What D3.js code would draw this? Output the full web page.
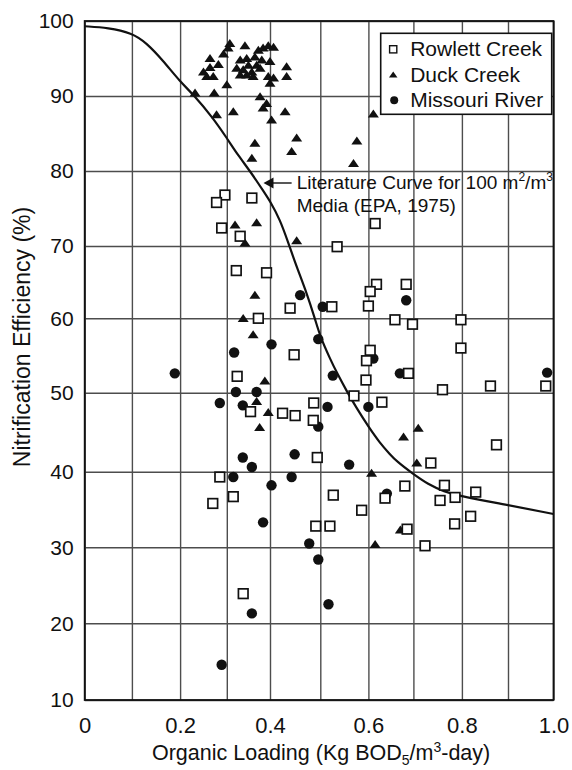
<!DOCTYPE html>
<html>
<head>
<meta charset="utf-8">
<script src="https://cdn.jsdelivr.net/npm/d3@7"></script>
<style>
  html, body { margin: 0; padding: 0; background: #fff; }
  svg { display: block; font-family: "Liberation Sans", Arial, Helvetica, sans-serif; }
</style>
</head>
<body>
<script>
// ---- Data ---------------------------------------------------------------
const xGridValues = [0, 0.1, 0.2, 0.3, 0.4, 0.5, 0.6, 0.7, 0.8, 0.9, 1.0];
const xTickValues = [0, 0.2, 0.4, 0.6, 0.8, 1.0];
const xTickLabels = ["0", "0.2", "0.4", "0.6", "0.8", "1.0"];
const yTickValues = [10, 20, 30, 40, 50, 60, 70, 80, 90, 100];
const seriesNames = ["Rowlett Creek", "Duck Creek", "Missouri River"];

// [organic loading, nitrification efficiency %]
const rowlettCreek = [
  [0.296, 76.8], [0.278, 75.8], [0.358, 76.4], [0.289, 72.4], [0.331, 71.3],
  [0.615, 73.0], [0.535, 69.9], [0.322, 66.6], [0.392, 66.3], [0.618, 64.7],
  [0.604, 63.7], [0.684, 64.7], [0.440, 61.4], [0.524, 61.6], [0.600, 61.7],
  [0.373, 60.0], [0.659, 59.8], [0.698, 59.2], [0.798, 59.8], [0.604, 55.7],
  [0.448, 55.1], [0.798, 56.0], [0.596, 54.3], [0.324, 52.2], [0.595, 51.7],
  [0.689, 52.6], [0.570, 49.6], [0.487, 48.7], [0.630, 48.8], [0.760, 50.4],
  [0.862, 50.9], [0.983, 50.9], [0.355, 47.6], [0.425, 47.4], [0.450, 47.1],
  [0.486, 46.5], [0.494, 41.8], [0.875, 43.4], [0.736, 41.1], [0.285, 39.3],
  [0.315, 36.7], [0.270, 35.8], [0.527, 36.9], [0.586, 34.9], [0.637, 36.5],
  [0.681, 38.1], [0.764, 38.2], [0.830, 37.3], [0.755, 36.2], [0.786, 36.6],
  [0.819, 34.1], [0.785, 33.1], [0.491, 32.8], [0.520, 32.8], [0.686, 32.4],
  [0.724, 30.2], [0.338, 23.9]
];

const duckCreek = [
  [0.307, 97.0], [0.303, 96.4], [0.293, 95.6], [0.264, 95.0], [0.282, 94.2],
  [0.264, 93.8], [0.250, 93.2], [0.257, 92.6], [0.271, 92.6], [0.300, 91.5],
  [0.232, 90.4], [0.273, 90.4], [0.278, 87.5], [0.315, 87.9],
  [0.342, 96.7], [0.373, 96.1], [0.384, 96.4], [0.396, 96.7], [0.407, 96.5],
  [0.331, 94.8], [0.346, 95.0], [0.365, 95.2], [0.381, 94.8], [0.350, 94.1],
  [0.369, 94.1], [0.323, 93.7], [0.338, 93.5], [0.358, 93.2], [0.377, 93.7],
  [0.331, 92.8], [0.346, 92.8], [0.361, 92.6], [0.400, 94.6], [0.396, 92.6],
  [0.407, 92.4], [0.400, 91.7], [0.433, 93.9], [0.433, 92.6], [0.377, 89.9],
  [0.392, 89.0], [0.384, 88.4], [0.430, 87.9], [0.403, 86.8], [0.453, 84.4],
  [0.365, 83.7], [0.443, 82.6], [0.358, 81.7], [0.576, 84.0], [0.569, 81.0],
  [0.611, 87.6],
  [0.319, 72.8], [0.369, 73.1], [0.342, 70.4], [0.453, 70.7], [0.365, 63.2],
  [0.338, 60.0], [0.361, 57.8], [0.388, 51.6], [0.369, 48.9], [0.396, 47.5],
  [0.376, 45.6], [0.607, 39.8], [0.710, 45.5], [0.678, 44.4], [0.707, 41.1],
  [0.671, 32.3], [0.615, 30.4]
];

const missouriRiver = [
  [0.317, 55.4], [0.460, 63.2], [0.505, 61.6], [0.403, 56.5], [0.496, 57.2],
  [0.611, 54.6], [0.684, 62.5], [0.189, 52.6], [0.321, 50.1], [0.369, 50.1],
  [0.285, 48.7], [0.337, 48.4], [0.526, 52.3], [0.515, 48.2], [0.600, 48.2],
  [0.496, 45.7], [0.337, 41.8], [0.358, 40.6], [0.449, 42.2], [0.560, 40.9],
  [0.315, 39.3], [0.443, 39.3], [0.403, 38.2], [0.384, 33.3], [0.670, 52.6],
  [0.986, 52.7], [0.478, 30.5], [0.496, 28.4], [0.358, 21.3], [0.289, 14.6],
  [0.517, 22.5], [0.641, 37.1]
];

// Literature curve for 100 m2/m3 media (EPA, 1975)
const literatureCurve = [
  [0, 99.3], [0.05, 99.1], [0.1, 98.4], [0.13, 97.1], [0.165, 94.7],
  [0.2, 91.9], [0.23, 90.1], [0.27, 87.1], [0.3, 84.4], [0.326, 82.1],
  [0.355, 79.9], [0.385, 77.3], [0.4, 76.0], [0.42, 73.5], [0.436, 70.5],
  [0.453, 67.1], [0.473, 63.5], [0.49, 59.8], [0.5, 57.5], [0.52, 54.6],
  [0.535, 52.6], [0.555, 50.2], [0.576, 48.0], [0.6, 45.7], [0.626, 43.6],
  [0.648, 42.2], [0.663, 41.3], [0.697, 39.8], [0.731, 38.3], [0.762, 37.4],
  [0.8, 36.7], [0.9, 35.6], [1.0, 34.4]
];

// ---- Layout -------------------------------------------------------------
const W = 572, H = 770;
const ink = "#111";
const gridColor = "#4d4d4d";

// The drafted grid is not perfectly even, so each gridline gets its own
// calibrated position and the scales interpolate between them.
const xGridPx = [84.7, 131.9, 180.1, 226.8, 270, 320.3, 368.4, 413.4, 461.9, 508, 553.5];
const yGridPx = [700, 623.3, 547.3, 471.7, 392.7, 318.3, 246, 171, 96, 21];

const x = d3.scaleLinear().domain(xGridValues).range(xGridPx);
const y = d3.scaleLinear().domain(yTickValues).range(yGridPx);

const plotL = x(0), plotR = x(1.0), plotT = y(100), plotB = y(10);

const svg = d3.select("body").append("svg")
  .attr("width", W).attr("height", H)
  .attr("viewBox", `0 0 ${W} ${H}`);

svg.append("rect").attr("width", W).attr("height", H).attr("fill", "#fff");

// ---- Grid + axes --------------------------------------------------------
const fmtX = d => {
  const i = xTickValues.findIndex(v => Math.abs(v - d) < 1e-9);
  return i >= 0 ? xTickLabels[i] : "";
};

const gx = svg.append("g")
  .attr("transform", `translate(0,${plotB})`)
  .call(d3.axisBottom(x).tickValues(xGridValues).tickSize(-(plotB - plotT))
    .tickPadding(17).tickFormat(fmtX));

const gy = svg.append("g")
  .attr("transform", `translate(${plotL},0)`)
  .call(d3.axisLeft(y).tickValues(yTickValues).tickSize(-(plotR - plotL))
    .tickPadding(11).tickFormat(d3.format("d")));

[gx, gy].forEach(g => {
  g.select(".domain").remove();
  g.selectAll(".tick line").attr("stroke", gridColor).attr("stroke-width", 1.4);
  g.selectAll(".tick text").attr("fill", ink)
    .attr("font-family", "Liberation Sans, Arial, sans-serif");
});
gx.selectAll(".tick text").attr("font-size", 22);
gy.selectAll(".tick text").attr("font-size", 21);

// plot frame
svg.append("rect")
  .attr("x", plotL).attr("y", plotT)
  .attr("width", plotR - plotL).attr("height", plotB - plotT)
  .attr("fill", "none").attr("stroke", ink).attr("stroke-width", 1.8);

// ---- Axis titles --------------------------------------------------------
const xTitle = svg.append("text")
  .attr("x", (plotL + plotR) / 2 + 2).attr("y", 760)
  .attr("text-anchor", "middle").attr("font-size", 21.5).attr("fill", ink);
xTitle.append("tspan").text("Organic Loading (Kg BOD");
xTitle.append("tspan").attr("font-size", 14).attr("dy", 5).text("5");
xTitle.append("tspan").attr("dy", -5).text("/m");
xTitle.append("tspan").attr("font-size", 14).attr("dy", -8).text("3");
xTitle.append("tspan").attr("dy", 8).text("-day)");

svg.append("text")
  .attr("transform", `translate(30,${337}) rotate(-90)`)
  .attr("text-anchor", "middle").attr("font-size", 23).attr("fill", ink)
  .text("Nitrification Efficiency (%)");

// ---- Literature curve ---------------------------------------------------
const line = d3.line()
  .x(d => x(d[0])).y(d => y(d[1]))
  .curve(d3.curveBasis);

svg.append("path")
  .datum(literatureCurve)
  .attr("d", line)
  .attr("fill", "none").attr("stroke", ink).attr("stroke-width", 2.2);

// ---- Markers ------------------------------------------------------------
const triPath = (w, h) => `M0,${-h * 0.55}L${w / 2},${h * 0.45}L${-w / 2},${h * 0.45}Z`;

svg.append("g").selectAll("circle")
  .data(missouriRiver).join("circle")
  .attr("cx", d => x(d[0])).attr("cy", d => y(d[1]))
  .attr("r", 5.2).attr("fill", ink);

svg.append("g").selectAll("path")
  .data(duckCreek).join("path")
  .attr("d", triPath(11, 8))
  .attr("transform", d => `translate(${x(d[0])},${y(d[1])})`)
  .attr("fill", ink);

svg.append("g").selectAll("rect")
  .data(rowlettCreek).join("rect")
  .attr("x", d => x(d[0]) - 4.8).attr("y", d => y(d[1]) - 4.8)
  .attr("width", 9.6).attr("height", 9.6)
  .attr("fill", "#fff").attr("stroke", ink).attr("stroke-width", 1.7);

// ---- Annotation ---------------------------------------------------------
const arrowTip = [0.385, 78.4];
const arrowTail = 0.443;
const ay = y(arrowTip[1]);
svg.append("line")
  .attr("x1", x(arrowTail)).attr("y1", ay)
  .attr("x2", x(arrowTip[0]) + 8).attr("y2", ay)
  .attr("stroke", ink).attr("stroke-width", 1.4);
svg.append("path")
  .attr("d", `M${x(arrowTip[0])},${ay}l10,-5.5l0,11z`)
  .attr("fill", ink);

const note = svg.append("g").attr("font-size", 19).attr("fill", ink);
const noteX = x(0.453);
const l1 = note.append("text").attr("x", noteX).attr("y", ay + 6);
l1.append("tspan").text("Literature Curve for 100 m");
l1.append("tspan").attr("font-size", 12).attr("dy", -8).text("2");
l1.append("tspan").attr("dy", 8).text("/m");
l1.append("tspan").attr("font-size", 12).attr("dy", -8).text("3");
note.append("text").attr("x", noteX).attr("y", ay + 29).text("Media (EPA, 1975)");

// ---- Legend -------------------------------------------------------------
const lg = svg.append("g").attr("transform", "translate(380.7,33.3)");
lg.append("rect").attr("width", 171).attr("height", 81)
  .attr("fill", "#fff").attr("stroke", ink).attr("stroke-width", 1.6);

const rowY = [16, 41.5, 67];
seriesNames.forEach((name, i) => {
  const g = lg.append("g").attr("transform", `translate(12.5,${rowY[i]})`);
  if (i === 0) {
    g.append("rect").attr("x", -3.6).attr("y", -3.6).attr("width", 7.2).attr("height", 7.2)
      .attr("fill", "#fff").attr("stroke", ink).attr("stroke-width", 1.4);
  } else if (i === 1) {
    g.append("path").attr("d", triPath(8.5, 6)).attr("fill", ink);
  } else {
    g.append("circle").attr("r", 4).attr("cx", 1).attr("fill", ink);
  }
  lg.append("text").attr("x", 29.5).attr("y", rowY[i] + 7)
    .attr("font-size", 21).attr("fill", ink).text(name);
});
</script>
</body>
</html>
